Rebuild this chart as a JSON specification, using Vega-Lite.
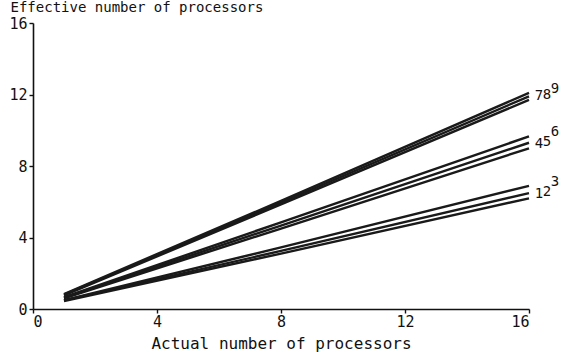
{
  "$schema": "https://vega.github.io/schema/vega-lite/v6.json",
  "width": 496,
  "height": 286,
  "autosize": {"type": "none"},
  "padding": {"left": 33, "top": 23, "right": 35, "bottom": 43},
  "background": "white",
  "config": {
    "view": {"stroke": null},
    "font": "DejaVu Sans Mono",
    "axis": {"grid": false, "domainColor": "#111", "domainWidth": 1.6, "tickColor": "#111", "tickWidth": 1.4, "tickSize": 4, "labelColor": "#111", "titleColor": "#111", "labelFont": "DejaVu Sans Mono", "titleFont": "DejaVu Sans Mono", "labelFontSize": 15, "titleFontSize": 16, "labelFontWeight": "normal", "titleFontWeight": "normal"}
  },
  "data": {
    "values": [
      {"series": 1, "actual": 1, "effective": 0.45}, {"series": 1, "actual": 8, "effective": 3.1}, {"series": 1, "actual": 16, "effective": 6.19},
      {"series": 2, "actual": 1, "effective": 0.48}, {"series": 2, "actual": 8, "effective": 3.25}, {"series": 2, "actual": 16, "effective": 6.48},
      {"series": 3, "actual": 1, "effective": 0.5}, {"series": 3, "actual": 8, "effective": 3.45}, {"series": 3, "actual": 16, "effective": 6.89},
      {"series": 4, "actual": 1, "effective": 0.6}, {"series": 4, "actual": 8, "effective": 4.5}, {"series": 4, "actual": 16, "effective": 8.99},
      {"series": 5, "actual": 1, "effective": 0.63}, {"series": 5, "actual": 8, "effective": 4.67}, {"series": 5, "actual": 16, "effective": 9.3},
      {"series": 6, "actual": 1, "effective": 0.66}, {"series": 6, "actual": 8, "effective": 4.85}, {"series": 6, "actual": 16, "effective": 9.66},
      {"series": 7, "actual": 1, "effective": 0.76}, {"series": 7, "actual": 8, "effective": 5.85}, {"series": 7, "actual": 16, "effective": 11.7},
      {"series": 8, "actual": 1, "effective": 0.8}, {"series": 8, "actual": 8, "effective": 5.95}, {"series": 8, "actual": 16, "effective": 11.9},
      {"series": 9, "actual": 1, "effective": 0.84}, {"series": 9, "actual": 8, "effective": 6.05}, {"series": 9, "actual": 16, "effective": 12.09}
    ]
  },
  "encoding": {
    "x": {"field": "actual", "type": "quantitative", "scale": {"domain": [0, 16], "nice": false, "zero": true},
      "axis": {"values": [0, 4, 8, 12, 16], "title": "Actual number of processors", "labelPadding": 1, "titleBaseline": "alphabetic", "titleY": 39, "titlePadding": 0}},
    "y": {"field": "effective", "type": "quantitative", "scale": {"domain": [0, 16], "nice": false},
      "axis": {"values": [0, 4, 8, 12, 16], "title": "Effective number of processors", "labelPadding": 2, "titleAngle": 0, "titleAlign": "left", "titleBaseline": "alphabetic", "titleX": -23, "titleY": -12, "titleFontSize": 14}}
  },
  "layer": [
    {"mark": {"type": "line", "color": "#1a1a1a", "strokeWidth": 2.4}, "encoding": {"detail": {"field": "series", "type": "nominal"}}},
    {"transform": [{"filter": "datum.actual == 16"}, {"filter": {"field": "series", "oneOf": [1, 4, 7]}}],
      "mark": {"type": "text", "align": "center", "baseline": "middle", "dx": 10, "dy": -4, "fontSize": 14, "color": "#111"},
      "encoding": {"text": {"field": "series", "type": "nominal"}}},
    {"transform": [{"filter": "datum.actual == 16"}, {"filter": {"field": "series", "oneOf": [2, 5, 8]}}],
      "mark": {"type": "text", "align": "center", "baseline": "middle", "dx": 18, "dy": -1, "fontSize": 14, "color": "#111"},
      "encoding": {"text": {"field": "series", "type": "nominal"}}},
    {"transform": [{"filter": "datum.actual == 16"}, {"filter": {"field": "series", "oneOf": [3, 6, 9]}}],
      "mark": {"type": "text", "align": "center", "baseline": "middle", "dx": 26, "dy": -4, "fontSize": 14, "color": "#111"},
      "encoding": {"text": {"field": "series", "type": "nominal"}}}
  ]
}
